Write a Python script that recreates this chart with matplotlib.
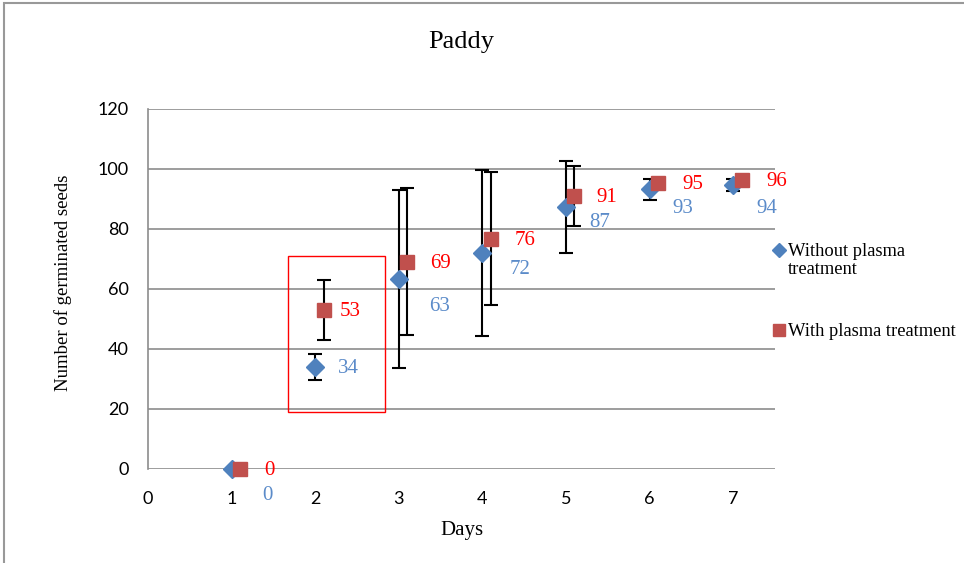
import matplotlib.pyplot as plt
import matplotlib.patches as patches
from matplotlib.lines import Line2D
import numpy as np

plt.rcParams['font.family'] = ['Liberation Serif', 'DejaVu Serif']

days = [1, 2, 3, 4, 5, 6, 7]
without_plasma = [0, 34, 63.3, 72, 87.3, 93.3, 94.7]
without_err = [0, 4.2, 29.8, 27.8, 15.3, 3.5, 2.1]
with_plasma = [0, 53, 69, 76.7, 91, 95.3, 96.3]
with_err = [0, 10, 24.5, 22.2, 10, 0, 0]
without_labels = ['0', '34', '63', '72', '87', '93', '94']
with_labels = ['0', '53', '69', '76', '91', '95', '96']

blue = '#4F81BD'
red = '#C0504D'

fig = plt.figure(figsize=(9.64, 5.63), dpi=100)
ax = fig.add_axes([0.1535, 0.167, 0.6505, 0.6394])

x = np.array(days)
eb1 = ax.errorbar(x, without_plasma, yerr=without_err, fmt='D', color=blue, markersize=9,
                  ecolor='black', elinewidth=1.5, capsize=5, capthick=1.5, zorder=3)
eb2 = ax.errorbar(x + 0.1, with_plasma, yerr=with_err, fmt='s', color=red, markersize=10,
                  ecolor='black', elinewidth=1.5, capsize=5, capthick=1.5, zorder=3)
eb1[0].set_clip_on(False)
eb2[0].set_clip_on(False)

# data labels (offsets in points, placed like the original)
blue_offsets = [(26, -19), (24, -1), (29, -20), (27, -12), (24, -11), (24, -14), (24, -17)]
red_offsets = [(21, -1), (19, -1), (24, -1), (25, -1), (23, -1), (25, -1), (25, -1)]
for xi, v, lab, off in zip(x, without_plasma, without_labels, blue_offsets):
    ax.annotate(lab, (xi, v), xytext=off, textcoords='offset points',
                color='#5B8BC9', fontsize=15, ha='center', va='center')
for xi, v, lab, off in zip(x + 0.1, with_plasma, with_labels, red_offsets):
    ax.annotate(lab, (xi, v), xytext=off, textcoords='offset points',
                color='#FF0000', fontsize=15, ha='center', va='center')

# highlight box around day 2
ax.add_patch(patches.Rectangle((1.675, 19), 1.16, 52, fill=False,
                               edgecolor='#FF0000', linewidth=1, zorder=4))

ax.set_xlim(0, 7.5)
ax.set_ylim(0, 120)
ax.set_yticks(range(0, 121, 20))
ax.set_xticks(range(0, 8))
ax.tick_params(axis='both', length=0, labelsize=13)
ax.tick_params(axis='y', pad=14)
ax.tick_params(axis='x', pad=16)
for t in ax.get_xticklabels() + ax.get_yticklabels():
    t.set_family(['Lato', 'DejaVu Sans'])
ax.grid(axis='y', color='#8C8C8C', linewidth=1.2)
ax.set_axisbelow(True)
for s in ['top', 'right', 'bottom']:
    ax.spines[s].set_visible(False)
ax.spines['left'].set_color('#8C8C8C')
ax.spines['left'].set_linewidth(1.2)

ax.set_title('Paddy', fontsize=19, pad=44)
ax.set_xlabel('Days', fontsize=15, labelpad=10)
ax.set_ylabel('Number of germinated seeds', fontsize=13.5, labelpad=18)
ax.yaxis.label.set_y(0.517)

# legend drawn Excel-style: marker beside the first line of each entry
fig.add_artist(Line2D([779 / 964], [1 - 250 / 563], marker='D', color=blue,
                      markersize=7, linestyle='none', transform=fig.transFigure))
fig.add_artist(Line2D([779 / 964], [1 - 330 / 563], marker='s', color=red,
                      markersize=8, linestyle='none', transform=fig.transFigure))
fig.text(788 / 964, 1 - 243 / 563, 'Without plasma\ntreatment', fontsize=13.3,
         ha='left', va='top', linespacing=1.1)
fig.text(788 / 964, 1 - 331 / 563, 'With plasma treatment', fontsize=13.3,
         ha='left', va='center')

fig.patches.append(patches.Rectangle((0.004, -0.05), 1.1, 1.045, transform=fig.transFigure,
                                     fill=False, edgecolor='#999999', linewidth=1.5))

fig.savefig('out.png', dpi=100)
